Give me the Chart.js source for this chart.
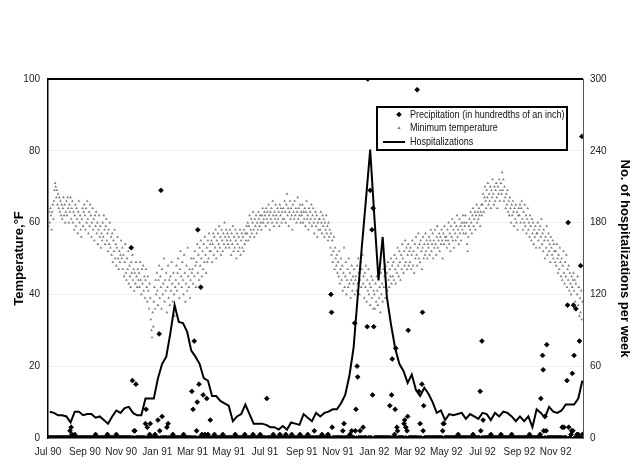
<!DOCTYPE html>
<html>
<head>
<meta charset="utf-8">
<script src="https://cdn.jsdelivr.net/npm/chart.js@4.4.1/dist/chart.umd.min.js"></script>
<style>
  html, body { margin: 0; padding: 0; background: #ffffff; }
  #wrap { width: 640px; height: 476px; position: relative; }
</style>
</head>
<body>
<div id="wrap"><canvas id="c" width="640" height="476"></canvas></div>
<script>
// ---------------- DATA ----------------
// x-axis tick positions (days since 1 Jul 1990) and labels
const tickDays = [0, 62, 123, 184, 243, 304, 365, 427, 488, 549, 609, 670, 731, 793, 854];
const tickLabels = ['Jul 90','Sep 90','Nov 90','Jan 91','Mar 91','May 91','Jul 91','Sep 91','Nov 91','Jan 92','Mar 92','May 92','Jul 92','Sep 92','Nov 92'];

// Daily minimum temperature (°F), Jul 1990 - Dec 1990 (one row per month)
const temp1990 = [
61,59,63,60,64,62,58,63,65,61,66,69,71,70,67,69,65,68,64,67,63,66,62,65,61,64,67,62,65,60,63,
66,62,67,64,60,65,63,67,61,64,66,60,63,58,62,65,59,64,61,57,63,66,60,62,58,56,61,64,59,63,65,
62,58,64,60,66,61,57,63,59,65,62,56,60,64,58,61,55,62,59,63,57,60,54,58,62,56,59,53,57,55,
60,56,62,58,54,59,61,55,57,52,58,54,60,53,56,51,57,49,55,52,58,50,54,48,53,56,50,47,52,49,51,
55,50,53,47,51,45,49,54,46,44,50,47,52,43,48,45,42,49,46,51,44,47,41,46,43,49,45,42,47,44,
46,42,49,44,40,47,43,48,41,45,39,44,47,42,38,45,41,36,43,39,33,30,28,35,31,38,42,36,44,40,46
];
// Daily minimum temperature (°F), 1991
const temp1991 = [
41,37,44,48,39,45,42,36,47,40,43,50,38,44,41,46,35,42,48,39,44,37,45,41,49,43,38,46,40,34,42,
44,48,41,46,50,43,39,47,52,45,42,49,44,40,51,46,38,43,48,41,53,45,42,47,39,44,50,46,
47,43,50,45,52,48,42,49,54,46,51,44,53,48,55,50,45,52,47,54,49,56,51,46,53,49,55,50,57,52,54,
52,55,49,54,57,51,56,53,58,50,55,52,57,54,59,53,56,51,58,55,52,57,54,60,56,53,58,55,57,54,
56,53,58,55,51,57,54,59,52,56,53,58,55,50,57,54,52,56,53,58,51,55,57,53,56,52,58,54,57,55,59,
57,60,55,59,62,56,58,61,57,60,63,58,56,61,59,62,57,60,58,63,61,59,62,60,58,62,64,60,61,63,
62,59,64,61,63,60,65,62,58,63,61,64,60,66,62,59,63,61,65,62,60,64,61,63,59,65,62,64,60,63,61,
64,61,66,63,60,65,68,62,64,59,63,66,61,64,62,58,65,63,61,66,62,64,60,63,67,61,64,62,65,60,63,
62,65,60,63,61,64,59,63,66,61,62,58,64,60,63,61,65,59,62,64,60,57,61,63,59,62,56,60,58,61,
61,58,63,60,57,62,59,61,56,60,58,62,57,59,55,60,56,58,53,57,51,55,49,52,56,47,53,50,48,51,46,
49,45,52,43,47,50,44,48,41,46,53,42,45,49,40,44,47,42,50,43,46,39,44,48,41,45,43,47,40,44,
45,41,48,43,50,46,40,44,49,42,47,51,43,45,39,46,42,48,38,44,41,47,40,43,37,42,45,39,44,36,41
];
// Daily minimum temperature (°F), Jan 1992 - mid Dec 1992
const temp1992 = [
40,36,43,38,45,41,37,44,39,42,35,46,40,43,38,47,42,45,39,48,43,46,41,49,44,42,47,45,50,43,48,
45,49,44,51,47,43,50,46,53,48,45,52,49,44,51,47,54,50,46,52,48,55,49,53,47,51,54,48,52,
49,53,47,51,55,48,52,46,54,50,56,51,48,53,57,50,54,49,55,52,47,53,56,50,54,51,57,52,55,50,54,
53,56,51,55,58,52,54,57,50,55,53,58,54,51,56,59,53,55,57,52,56,54,58,55,50,57,54,59,56,55,
56,53,58,55,60,54,57,52,59,56,61,55,58,53,60,57,55,59,62,56,58,54,61,57,59,55,60,58,62,57,60,
59,62,57,60,54,52,56,59,61,58,63,60,57,62,64,59,61,63,58,62,65,60,63,61,64,62,59,63,65,62,
65,68,63,67,70,66,64,69,67,71,65,68,66,70,64,69,67,72,68,65,70,66,69,71,67,64,70,68,72,66,69,
71,68,74,69,72,66,70,67,64,68,65,69,63,66,62,67,64,60,65,62,66,63,59,64,61,65,60,63,58,62,64,
62,65,60,64,66,61,58,63,60,65,59,62,57,61,64,58,60,56,62,59,55,61,57,60,54,58,56,59,53,57,
57,60,55,58,53,59,56,61,54,57,52,58,55,50,56,53,59,51,55,57,52,54,49,56,53,51,55,50,54,52,49,
52,48,54,50,46,51,47,53,49,45,50,44,48,52,46,43,49,45,51,42,47,44,48,41,46,43,40,45,42,44,
46,41,44,38,43,36,40,45,37,42,34,39,35,41,33,38
];

// Daily precipitation (hundredths of an inch), Jul 1990 - Dec 1990
const precip1990 = [
0,0,0,0,0,0,0,0,0,0,0,0,0,0,0,0,0,0,0,0,0,0,0,0,0,0,0,0,0,0,0,
0,0,0,0,0,0,2,0,3,1,0,0,0,0,1,0,0,0,0,0,0,0,0,0,0,0,0,0,0,0,0,
0,0,0,0,0,0,0,0,0,0,0,0,0,0,0,0,0,0,1,0,0,0,0,0,0,0,0,0,0,0,
0,0,0,0,0,0,0,0,1,0,0,0,0,0,0,0,0,0,0,0,0,0,0,1,0,0,0,0,0,0,0,
0,0,0,0,0,0,0,0,0,0,0,0,0,0,0,0,0,53,0,16,0,0,2,2,0,15,0,0,0,0,
0,0,0,0,0,0,0,0,0,0,0,4,8,0,3,0,0,0,1,4,0,0,0,0,0,0,0,1,0,0,0
];
// Daily precipitation (hundredths of an inch), 1991
const precip1991 = [
0,5,0,29,2,0,69,0,6,0,0,0,0,0,0,0,3,0,4,0,0,0,0,0,0,0,1,0,0,0,0,
0,0,0,0,0,0,0,0,0,0,0,0,0,1,0,0,0,0,0,0,0,0,0,0,0,0,0,13,
0,8,0,27,0,0,0,2,10,58,0,15,0,0,42,0,1,0,12,0,0,1,0,0,11,0,1,0,0,0,5,
0,0,0,0,0,0,1,0,0,0,0,0,0,0,0,0,0,0,0,0,1,0,0,0,0,0,0,0,0,0,
0,0,0,0,0,0,0,0,0,0,0,1,0,0,0,0,0,0,0,0,0,0,0,0,0,0,0,1,0,0,0,
0,0,0,0,0,0,0,0,0,0,1,0,0,0,0,0,0,0,0,0,0,0,1,0,0,0,0,0,0,0,
0,0,0,11,0,0,0,0,0,0,0,0,0,0,1,0,0,0,0,0,0,0,0,0,0,1,0,0,0,0,0,
0,0,0,0,1,0,0,0,0,0,0,0,0,0,1,0,0,0,0,0,0,0,0,0,0,0,0,0,1,0,0,
0,0,0,0,0,0,0,0,0,0,1,0,0,0,0,0,0,0,0,0,0,2,0,0,0,0,0,0,0,0,
0,0,0,0,1,0,0,0,0,0,0,0,0,0,1,0,0,0,0,40,35,3,0,0,0,0,0,0,0,0,0,
0,0,0,0,0,0,0,0,2,0,4,0,0,0,0,0,0,0,0,0,1,0,0,2,0,0,0,0,32,2,
8,0,20,17,0,0,0,2,0,0,0,0,3,0,0,0,0,0,0,31,100,0,0,0,69,0,0,58,12,64,31
];
// Daily precipitation (hundredths of an inch), Jan 1992 - mid Dec 1992
const precip1992 = [
0,0,0,0,0,0,0,0,0,0,0,0,0,0,0,0,0,0,0,0,0,0,0,0,0,0,9,0,0,12,22,
0,0,0,1,8,25,0,3,2,0,0,0,0,0,0,0,0,0,0,4,5,0,3,0,2,6,30,0,0,
0,0,0,0,0,0,0,0,0,0,0,0,97,0,0,13,0,4,0,0,15,35,2,9,0,0,0,0,0,0,0,
0,0,0,0,0,0,0,0,0,0,0,0,0,0,0,0,0,0,0,0,0,0,0,0,2,4,4,0,0,0,
0,0,0,0,0,0,0,0,0,0,0,0,0,0,0,0,0,0,0,0,1,0,0,0,0,0,0,0,0,0,0,
0,0,0,0,0,0,0,0,0,0,0,0,0,0,1,0,0,0,0,0,0,0,0,0,0,0,13,2,0,27,
0,5,0,0,0,0,0,0,0,0,0,0,0,0,1,0,0,0,0,0,0,0,0,0,0,0,0,0,0,0,0,
1,0,0,0,0,0,0,0,0,0,0,0,0,0,0,0,0,0,1,0,0,0,0,0,0,0,0,0,0,0,0,
0,0,0,0,0,0,0,0,0,0,0,0,0,0,0,0,0,1,0,0,0,0,0,0,0,0,0,0,0,0,
0,0,0,0,0,1,11,0,0,23,19,2,0,6,0,2,26,0,0,0,0,0,0,0,0,0,0,0,0,0,0,
0,0,0,0,0,0,0,0,0,0,0,3,0,0,3,0,0,0,0,16,37,60,3,0,0,0,1,2,18,2,
37,23,0,0,36,0,1,0,1,0,27,0,48,0,84,1
];

// Weekly hospitalizations (one value per week from the week of 1 Jul 1990)
const hospWeekly = [
22,21,19,19,18,13,22,22,19,20,
20,17,18,15,12,18,23,21,25,26,
21,19,19,33,33,33,50,62,68,88,
111,97,96,89,73,68,62,50,48,35,
35,31,29,27,14,18,20,28,20,12,
12,12,11,9,9,7,10,7,13,12,
11,20,17,14,21,18,21,22,24,24,
29,36,52,75,118,160,200,241,185,132,
168,118,95,75,62,56,46,53,40,35,
42,37,30,21,23,15,20,19,20,21,
16,20,18,16,21,20,15,21,18,22,
21,18,14,18,14,18,9,24,21,17,
26,22,21,23,28,28,28,33,48
];

// ---------------- BUILD ----------------
const dailyTemp = temp1990.concat(temp1991, temp1992);
const dailyPrecip = precip1990.concat(precip1991, precip1992);
const tempPts = dailyTemp.map((v, d) => ({ x: d, y: v }));
const precipPts = dailyPrecip.map((v, d) => ({ x: d, y: v }));
const hospPts = hospWeekly.map((v, w) => ({ x: w * 7 + 3, y: v }));

const family = '"Liberation Sans", Arial, sans-serif';

const extras = {
  id: 'extras',
  afterDatasetsDraw(chart) {
    const { ctx, chartArea: a } = chart;
    ctx.save();
    // top frame line
    ctx.strokeStyle = '#000';
    ctx.lineWidth = 2;
    ctx.beginPath();
    ctx.moveTo(a.left - 1, a.top);
    ctx.lineTo(a.right, a.top);
    ctx.stroke();

    // legend box
    const bx = a.left + 329, by = a.top + 28, bw = 190, bh = 43;
    ctx.fillStyle = '#fff';
    ctx.fillRect(bx, by, bw, bh);
    ctx.lineWidth = 2;
    ctx.strokeStyle = '#000';
    ctx.strokeRect(bx, by, bw, bh);
    const mx = bx + 22, tx = bx + 33;
    const r1 = by + 7.5, r2 = by + 21, r3 = by + 35;
    // diamond marker
    ctx.beginPath();
    ctx.moveTo(mx, r1 - 2.8); ctx.lineTo(mx + 2.8, r1); ctx.lineTo(mx, r1 + 2.8); ctx.lineTo(mx - 2.8, r1);
    ctx.closePath(); ctx.fillStyle = '#000'; ctx.fill();
    // triangle marker
    ctx.beginPath();
    ctx.moveTo(mx, r2 - 1.7); ctx.lineTo(mx + 1.6, r2 + 1.1); ctx.lineTo(mx - 1.6, r2 + 1.1);
    ctx.closePath(); ctx.fillStyle = '#7c7c7c'; ctx.fill();
    // line marker
    ctx.beginPath();
    ctx.moveTo(bx + 6, r3); ctx.lineTo(bx + 28, r3);
    ctx.lineWidth = 2; ctx.strokeStyle = '#000'; ctx.stroke();
    // legend text (slightly condensed like the reference)
    ctx.font = '11px ' + family;
    ctx.fillStyle = '#111';
    ctx.textAlign = 'left';
    ctx.textBaseline = 'middle';
    const sx = 0.82;
    ctx.save();
    ctx.translate(tx, 0);
    ctx.scale(sx, 1);
    ctx.fillText('Precipitation (in hundredths of an inch)', 0, r1);
    ctx.fillText('Minimum temperature', 0, r2);
    ctx.fillText('Hospitalizations', 0, r3);
    ctx.restore();

    // axis titles
    const midY = (a.top + a.bottom) / 2;
    ctx.font = 'bold 13px ' + family;
    ctx.fillStyle = '#000';
    ctx.textAlign = 'center';
    ctx.textBaseline = 'middle';
    ctx.save();
    ctx.translate(19, midY);
    ctx.rotate(-Math.PI / 2);
    ctx.fillText('Temperature,°F', 0, 0);
    ctx.restore();
    ctx.save();
    ctx.translate(625, midY);
    ctx.rotate(Math.PI / 2);
    ctx.fillText('No. of hospitalizations per week', 0, 0);
    ctx.restore();
    ctx.restore();
  }
};

const tickFont = { family: family, size: 10 };

new Chart(document.getElementById('c'), {
  type: 'scatter',
  data: {
    datasets: [
      {
        label: 'Precipitation (in hundredths of an inch)',
        data: precipPts,
        yAxisID: 'y',
        pointStyle: 'rectRot',
        pointRadius: 2.4,
        pointBorderWidth: 0.8,
        backgroundColor: '#000',
        borderColor: '#000'
      },
      {
        label: 'Hospitalizations',
        data: hospPts,
        yAxisID: 'y2',
        showLine: true,
        borderColor: '#000',
        borderWidth: 2,
        pointRadius: 0,
        tension: 0,
        fill: false
      },
      {
        label: 'Minimum temperature',
        data: tempPts,
        yAxisID: 'y',
        pointStyle: 'triangle',
        pointRadius: 1.6,
        pointBorderWidth: 0,
        backgroundColor: '#7c7c7c',
        borderColor: '#7c7c7c'
      }
    ]
  },
  options: {
    responsive: false,
    animation: false,
    layout: { padding: { top: 79, left: 0, right: 0, bottom: 0 } },
    plugins: { legend: { display: false }, tooltip: { enabled: false }, title: { display: false } },
    scales: {
      x: {
        type: 'linear',
        min: 0,
        max: 900,
        afterBuildTicks: (scale) => { scale.ticks = tickDays.map(v => ({ value: v })); },
        afterFit: (scale) => { scale.height = 38; },
        grid: { display: false, drawTicks: false },
        border: { display: true, color: '#000', width: 1.5 },
        ticks: {
          autoSkip: false,
          maxRotation: 0,
          minRotation: 0,
          padding: 8,
          color: '#222',
          font: tickFont,
          callback: (v) => { const i = tickDays.indexOf(v); return i >= 0 ? tickLabels[i] : ''; }
        }
      },
      y: {
        position: 'left',
        min: 0,
        max: 100,
        afterFit: (scale) => { scale.width = 48; },
        grid: { color: 'rgba(0,0,0,0.06)', drawTicks: false },
        border: { display: true, color: '#000', width: 1.5 },
        ticks: { stepSize: 20, padding: 8, color: '#222', font: tickFont }
      },
      y2: {
        position: 'right',
        min: 0,
        max: 300,
        afterFit: (scale) => { scale.width = 57; },
        grid: { display: false, drawTicks: false },
        border: { display: true, color: '#555', width: 1 },
        ticks: { stepSize: 60, padding: 7, color: '#222', font: tickFont }
      }
    }
  },
  plugins: [extras]
});
</script>
</body>
</html>
